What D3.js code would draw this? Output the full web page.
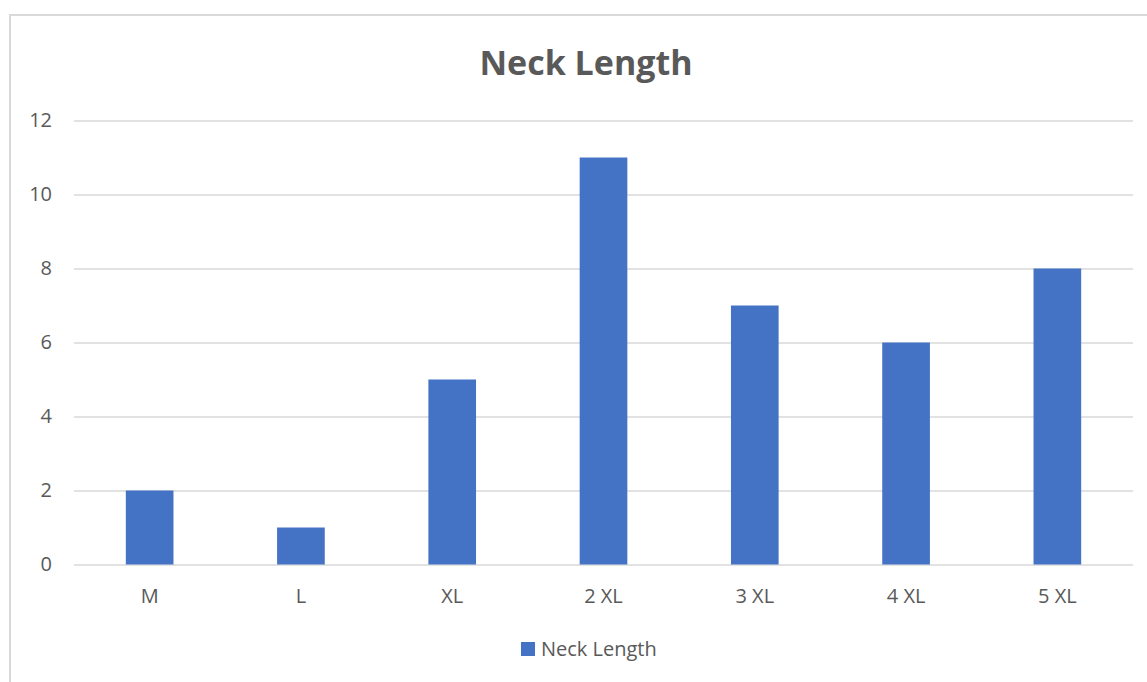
<!DOCTYPE html>
<html>
<head>
<meta charset="utf-8">
<script src="https://cdn.jsdelivr.net/npm/d3@7"></script>
<style>
  body { margin: 0; background: #fff; }
  text { font-family: "Open Sans", "Liberation Sans", sans-serif; fill: #595959; }
</style>
</head>
<body>
<div id="chart"></div>
<script>
// data
let categories = ["M", "L", "XL", "2 XL", "3 XL", "4 XL", "5 XL"];
let values = [2, 1, 5, 11, 7, 6, 8];
let yTicks = [0, 2, 4, 6, 8, 10, 12];
let seriesName = "Neck Length";

function chartConfig(){
    let width = 1147, height = 682;
    let plot = { left: 74, right: 1133, top: 120.5, bottom: 564.5 };
    let svg = d3.select("#chart").append("svg")
                .attr("width", width)
                .attr("height", height);
    return { width, height, plot, svg };
}

function chartScales(config){
    let { plot } = config;
    let xScale = d3.scaleBand()
                .domain(categories)
                .range([plot.left, plot.right])
                .padding(0);
    let yScale = d3.scaleLinear()
                .domain([0, 12])
                .range([plot.bottom, plot.top]);
    return { xScale, yScale };
}

function drawChart(config, scales){
    let { svg, plot } = config;
    let { xScale, yScale } = scales;

    // chart frame (runs off the right and bottom of the window)
    svg.append("rect")
        .attr("x", 10).attr("y", 15)
        .attr("width", 1200).attr("height", 720)
        .attr("fill", "none")
        .attr("stroke", "#d9d9d9")
        .attr("stroke-width", 2);

    svg.append("text")
        .attr("x", 586).attr("y", 75)
        .attr("text-anchor", "middle")
        .style("font-size", "34px")
        .style("font-weight", "bold")
        .text(seriesName);

    // gridlines + y labels
    let axisY = d3.axisLeft(yScale)
                .tickValues(yTicks)
                .tickSize(-(plot.right - plot.left))
                .tickPadding(22);
    let gy = svg.append("g")
        .attr("transform", "translate(" + plot.left + ",0)")
        .call(axisY);
    gy.select(".domain").remove();
    gy.selectAll("line").attr("stroke", "#d9d9d9").attr("stroke-width", 1.5);
    gy.selectAll("text")
        .style("font-size", "20px")
        .attr("fill", "#595959");

    // bars
    let bw = xScale.bandwidth() * 0.315;
    svg.selectAll("rect.bar")
        .data(values)
        .enter()
        .append("rect")
        .attr("class", "bar")
        .attr("x", (d, i) => xScale(categories[i]) + xScale.bandwidth() / 2 - bw / 2)
        .attr("y", d => yScale(d))
        .attr("width", bw)
        .attr("height", d => yScale(0) - yScale(d))
        .attr("fill", "#4472c4");

    // x labels
    let axisX = d3.axisBottom(xScale).tickSize(0).tickPadding(24);
    let gx = svg.append("g")
        .attr("transform", "translate(0," + plot.bottom + ")")
        .call(axisX);
    gx.select(".domain").remove();
    gx.selectAll("text")
        .style("font-size", "20px")
        .attr("fill", "#595959");

    // legend
    let legend = svg.append("g").attr("transform", "translate(521,642)");
    legend.append("rect")
        .attr("width", 14).attr("height", 14)
        .attr("fill", "#4472c4");
    legend.append("text")
        .attr("x", 20).attr("y", 14)
        .style("font-size", "20px")
        .text(seriesName);
}

let config = chartConfig();
let scales = chartScales(config);
drawChart(config, scales);
</script>
</body>
</html>
